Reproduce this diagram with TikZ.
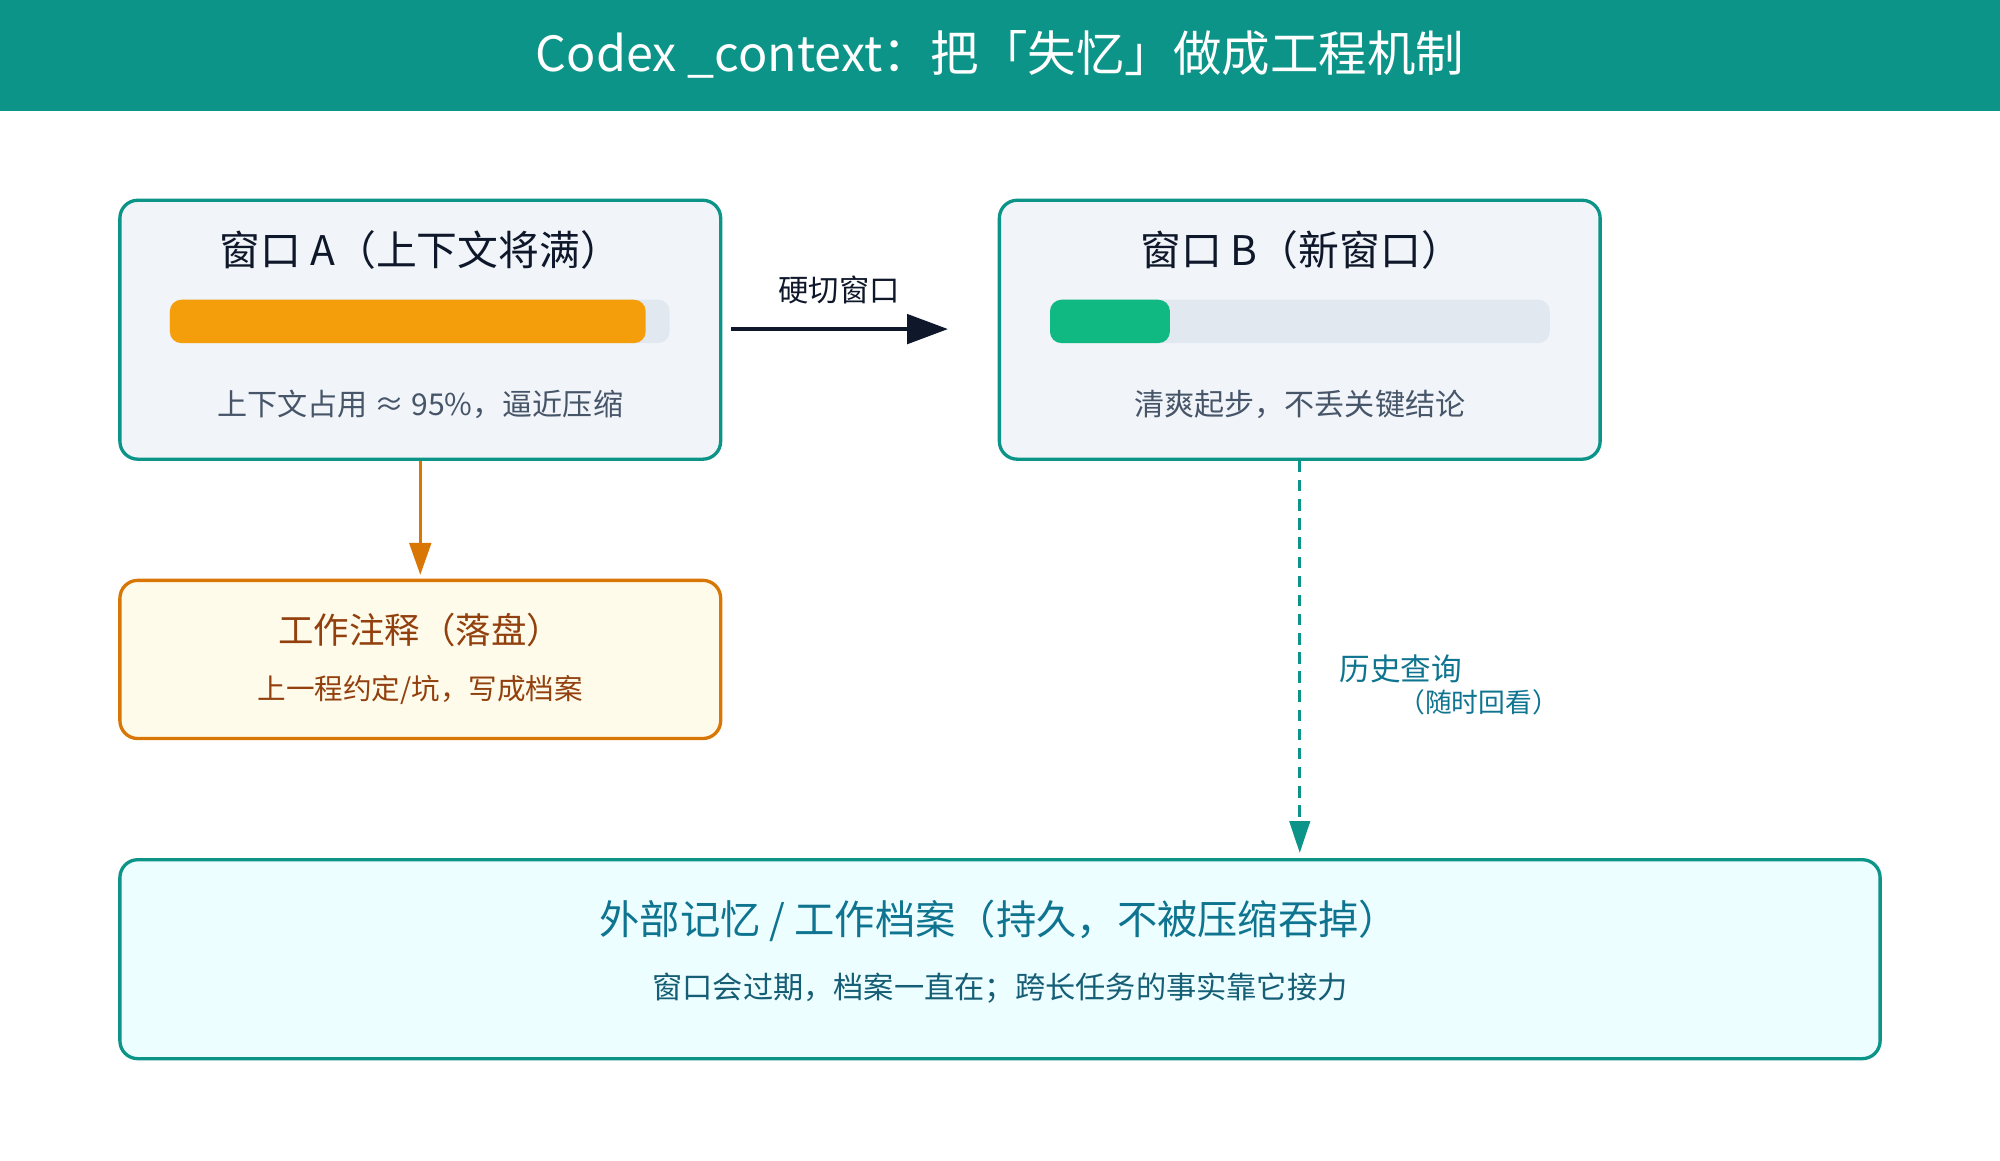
\documentclass[tikz,border=0pt]{standalone}
\usepackage{fontspec}
\setmainfont{Noto Sans CJK SC}
\usetikzlibrary{arrows.meta}
\definecolor{tealc}{HTML}{0D9488}
\definecolor{boxfill}{HTML}{F1F5F9}
\definecolor{barbg}{HTML}{E2E8F0}
\definecolor{orangebar}{HTML}{F59E0B}
\definecolor{greenbar}{HTML}{10B981}
\definecolor{navy}{HTML}{0F172A}
\definecolor{grayt}{HTML}{475569}
\definecolor{orangeline}{HTML}{D97706}
\definecolor{cream}{HTML}{FFFBEB}
\definecolor{brownt}{HTML}{92400E}
\definecolor{cyanfill}{HTML}{ECFEFF}
\definecolor{tealblue}{HTML}{0E7490}
\definecolor{tealdark}{HTML}{155E75}
\tikzset{
  winbox/.style={draw=tealc, line width=2.6pt, fill=boxfill, rounded corners=14pt, inner sep=0pt, minimum width=471pt, minimum height=203pt},
  notebox/.style={draw=orangeline, line width=2.6pt, fill=cream, rounded corners=14pt, inner sep=0pt, minimum width=471pt, minimum height=124pt},
  membox/.style={draw=tealc, line width=2.6pt, fill=cyanfill, rounded corners=14pt, inner sep=0pt, minimum width=1380pt, minimum height=156pt},
  barbgst/.style={fill=barbg, rounded corners=9pt, inner sep=0pt, minimum width=392pt, minimum height=34pt},
  barfill/.style={rounded corners=9pt, inner sep=0pt, minimum height=34pt, anchor=west},
  titletxt/.style={inner sep=0pt, text=navy, font=\fontsize{32pt}{36pt}\selectfont},
  subtxt/.style={inner sep=0pt, text=grayt, font=\fontsize{23.6pt}{28pt}\selectfont},
}
\begin{document}
\begin{tikzpicture}[x=1pt,y=-1pt]
\useasboundingbox (0,0) rectangle (1568,909.5);
% header
\node[fill=tealc, minimum width=1568pt, minimum height=87pt, inner sep=0pt, anchor=north west] (header) at (0,0) {};
\node[inner sep=0pt, text=white, font=\fontsize{38pt}{42pt}\selectfont] (title) at (784,43) {Codex \_context：把「失忆」做成工程机制};
% window A
\node[winbox] (A) at (329.5,258.5) {};
\node[titletxt] (Atitle) at (329.5,196) {窗口 A（上下文将满）};
\node[barbgst] (Abar) at (329,252) {};
\node[barfill, fill=orangebar, minimum width=373pt] (Afill) at (133,252) {};
\node[subtxt] (Atext) at (329.5,317) {上下文占用 ≈ 95\%，逼近压缩};
% window B
\node[winbox] (B) at (1019,258.5) {};
\node[titletxt] (Btitle) at (1020,196) {窗口 B（新窗口）};
\node[barbgst] (Bbar) at (1019,252) {};
\node[barfill, fill=greenbar, minimum width=94pt] (Bfill) at (823,252) {};
\node[subtxt] (Btext) at (1019,317) {清爽起步，不丢关键结论};
% hard cut arrow
\coordinate (h1) at ([xshift=7pt]A.east |- Abar.center);
\coordinate (h2) at ([xshift=-39pt]B.west |- Abar.center);
\draw[navy, line width=3pt, -{Triangle[length=32pt,width=23pt]}] ([yshift=-6pt]h1) -- ([yshift=-6pt]h2);
\node[inner sep=0pt, text=navy, font=\fontsize{23.8pt}{28pt}\selectfont] (cutlabel) at (658,227) {硬切窗口};
% notes box
\node[notebox] (C) at (329.5,517) {};
\node[inner sep=0pt, text=brownt, font=\fontsize{27.8pt}{32pt}\selectfont] (Ctitle) at (329.5,494) {工作注释（落盘）};
\node[inner sep=0pt, text=brownt, font=\fontsize{22.4pt}{26pt}\selectfont] (Ctext) at (329.5,541) {上一程约定/坑，写成档案};
\draw[orangeline, line width=2.2pt, shorten >=3pt, -{Triangle[length=25pt,width=17pt]}] (A.south) -- (C.north);
% memory box
\node[membox] (D) at (784,752) {};
\node[inner sep=0pt, text=tealblue, font=\fontsize{31.6pt}{36pt}\selectfont] (Dtitle) at (783.5,722) {外部记忆 / 工作档案（持久，不被压缩吞掉）};
\node[inner sep=0pt, text=tealdark, font=\fontsize{23.7pt}{28pt}\selectfont] (Dtext) at (784,775) {窗口会过期，档案一直在；跨长任务的事实靠它接力};
\draw[tealc, line width=2.5pt, dash pattern=on 9pt off 6pt, shorten >=4pt, -{Triangle[length=25pt,width=16pt]}] (B.south) -- (B.south |- D.north);
\node[inner sep=0pt, anchor=west, text=tealblue, font=\fontsize{24pt}{28pt}\selectfont] (hist) at (1050,524) {历史查询};
\node[inner sep=0pt, anchor=west, text=tealblue, font=\fontsize{21pt}{25pt}\selectfont] (histsub) at (1096,551) {（随时回看）};
\end{tikzpicture}
\end{document}
